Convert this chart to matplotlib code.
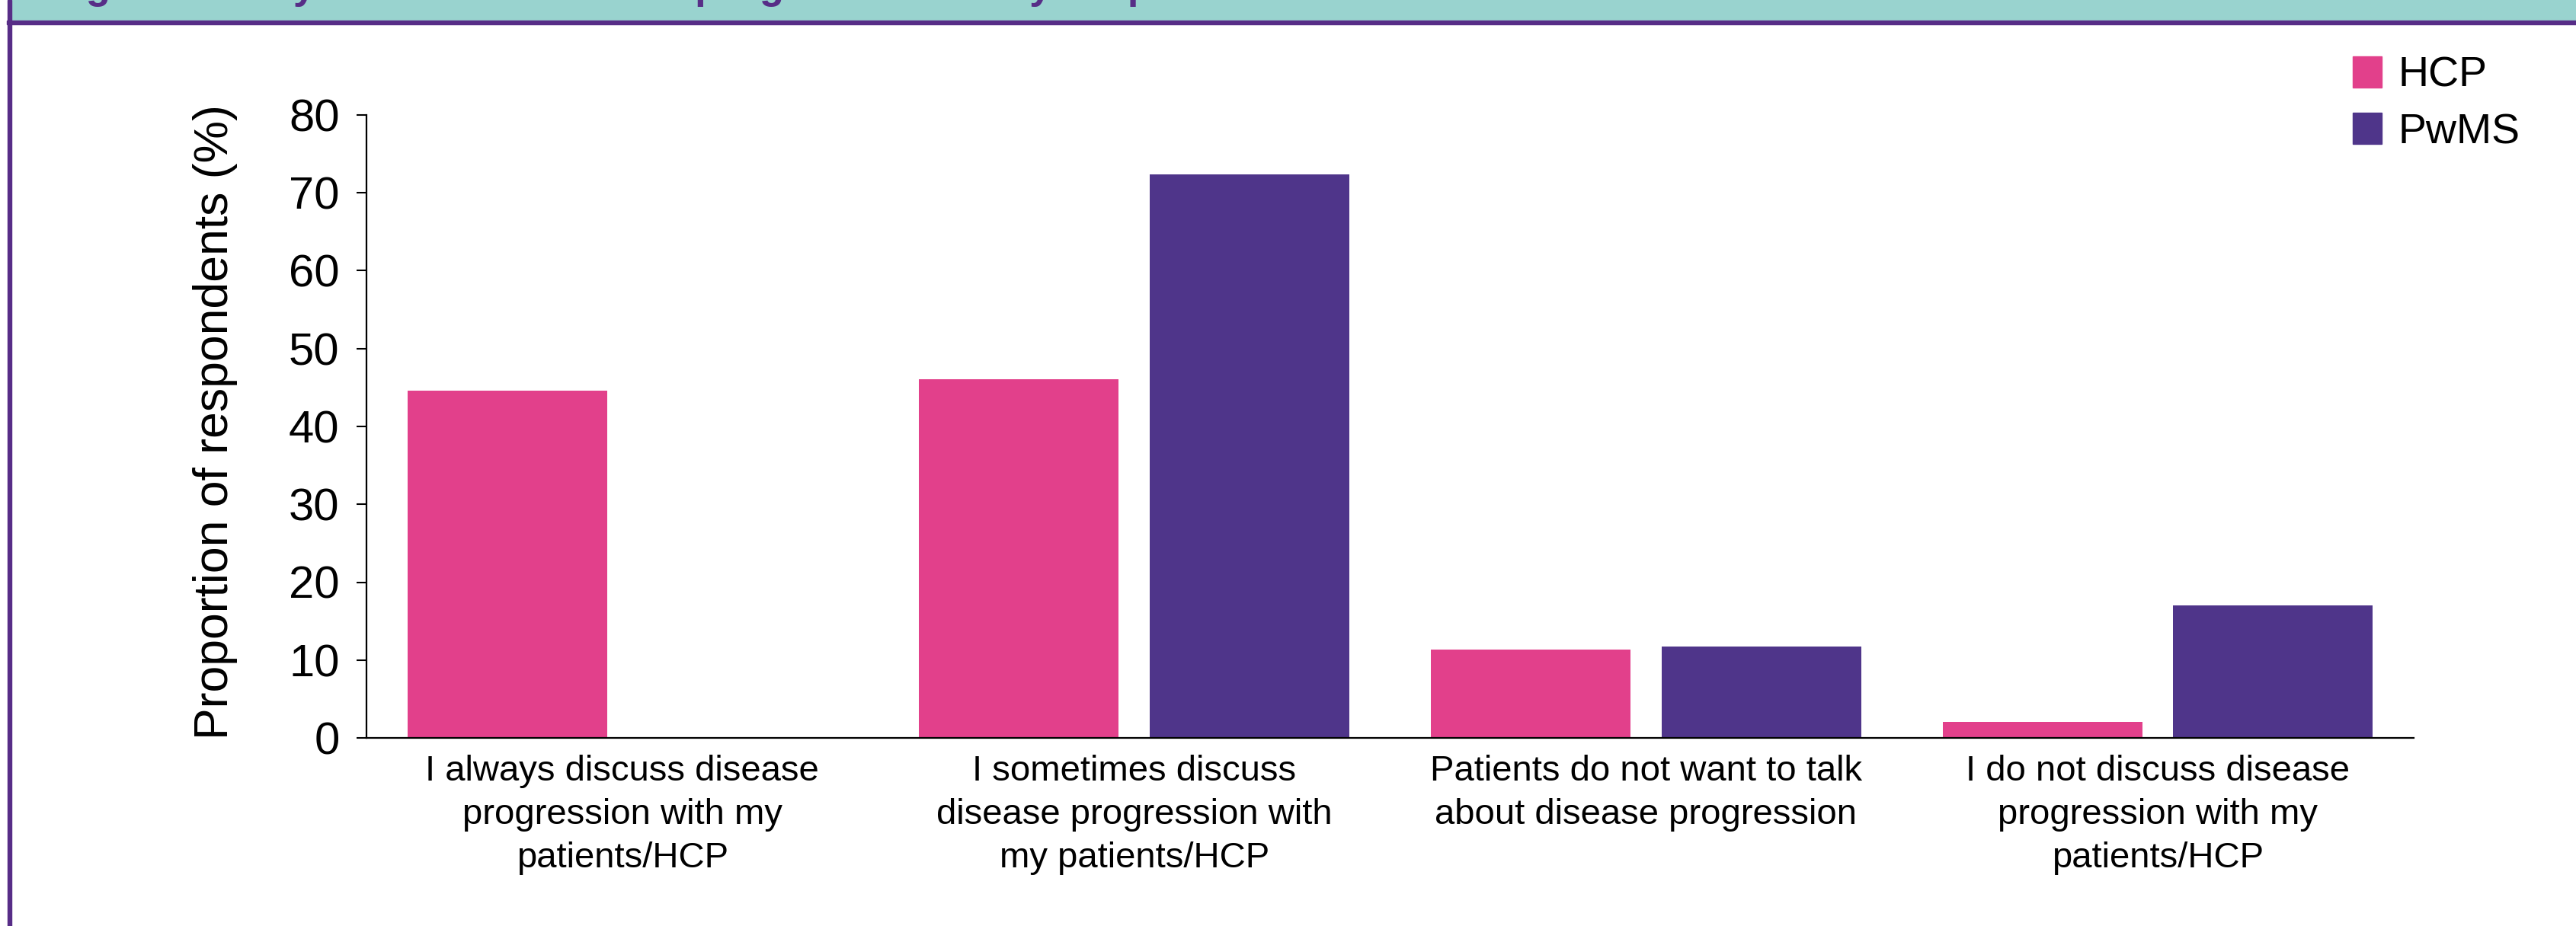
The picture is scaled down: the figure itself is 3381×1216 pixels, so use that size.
import matplotlib.pyplot as plt
from matplotlib.patches import Rectangle, Patch
import numpy as np

plt.rcParams['font.family'] = ['Liberation Sans', 'DejaVu Sans']

# survey answers and share of respondents (%)
categories = [
    "I always discuss disease\nprogression with my\npatients/HCP",
    "I sometimes discuss\ndisease progression with\nmy patients/HCP",
    "Patients do not want to talk\nabout disease progression",
    "I do not discuss disease\nprogression with my\npatients/HCP",
]
hcp = [44.6, 46.1, 11.3, 2.1]
pwms = [0.0, 72.4, 11.7, 17.0]
groups = ["HCP", "PwMS"]
yticks = [0, 10, 20, 30, 40, 50, 60, 70, 80]
title = "Figure 3. Do you discuss disease progression with your patients/HCP?"

pink = "#E2408B"
purple = "#4F358A"
border = "#572D87"
teal = "#99D3CF"

W, H = 3381, 1216
fig = plt.figure(figsize=(W / 100, H / 100), dpi=100)
ax = fig.add_axes([481 / W, 1 - 969 / H, (3168 - 481) / W, (969 - 151) / H])

x = np.arange(len(categories))
bw = 0.39
off = 0.225
ax.bar(x - off, hcp, bw, color=pink, linewidth=0, label=groups[0])
ax.bar(x + off, pwms, bw, color=purple, linewidth=0, label=groups[1])

ax.set_xlim(-0.5, 3.5)
ax.set_ylim(0, 80)
ax.set_yticks(yticks)
ax.set_xticks(x)
ax.set_xticklabels(categories, fontsize=34, linespacing=1.38)
ax.tick_params(axis='x', length=0, pad=16)
ax.tick_params(axis='y', labelsize=43, length=9.5, width=1.5, pad=16)
for s in ['top', 'right']:
    ax.spines[s].set_visible(False)
for s in ['left', 'bottom']:
    ax.spines[s].set_linewidth(1.6)

fig.text(282 / W, 1 - 554 / H, "Proportion of respondents (%)", rotation=90,
         ha='center', va='center', fontsize=45)

# legend with square swatches, top right
handles = [Patch(color=pink), Patch(color=purple)]
fig.legend(handles, groups, loc='upper left', bbox_to_anchor=(3088 / W, 1 - 74 / H),
           frameon=False, fontsize=40, handlelength=0.68, handleheight=0.75,
           handletextpad=0.4, labelspacing=0.4, borderpad=0, borderaxespad=0)

# header band and frame
fig.patches.append(Rectangle((12 / W, 1 - 27 / H), 1, 27 / H, transform=fig.transFigure,
                             color=teal, zorder=0))
fig.patches.append(Rectangle((9 / W, 1 - 32 / H), 1, 5 / H, transform=fig.transFigure,
                             color=border, zorder=1))
fig.patches.append(Rectangle((9.5 / W, 0), 5.5 / W, 1, transform=fig.transFigure,
                             color=border, zorder=1))
fig.text(66 / W, 1 + 2 / H, title, fontsize=38, fontweight='bold', color=border,
         ha='left', va='baseline')

fig.savefig("out.png", dpi=100)
